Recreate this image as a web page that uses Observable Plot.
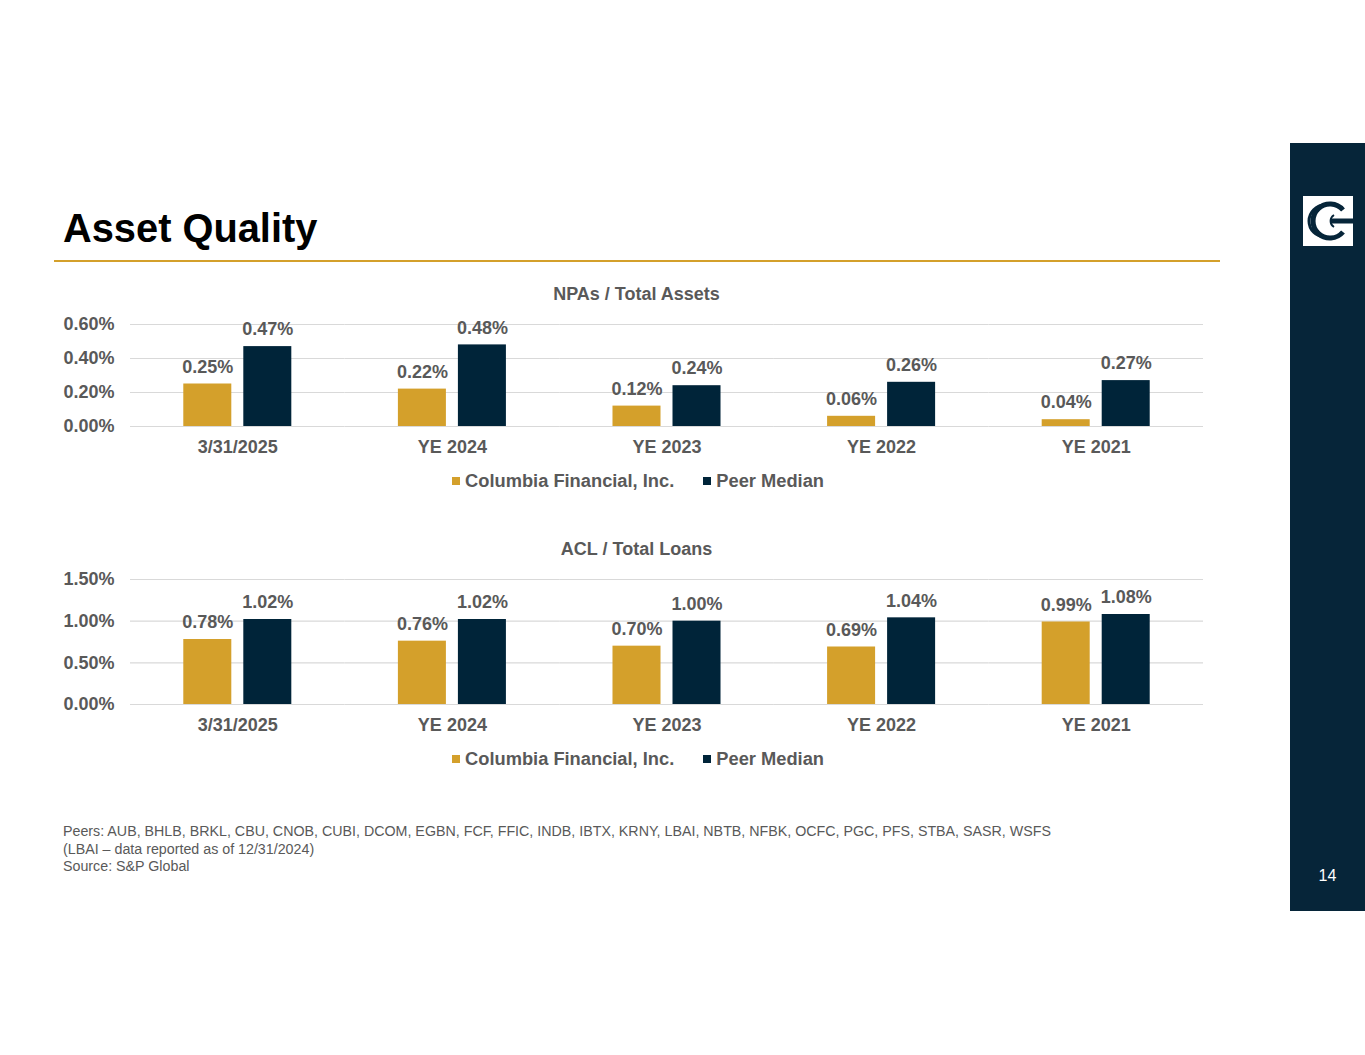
<!DOCTYPE html>
<html>
<head>
<meta charset="utf-8">
<script src="https://cdn.jsdelivr.net/npm/d3@7"></script>
<script src="https://cdn.jsdelivr.net/npm/@observablehq/plot@0.6"></script>
<style>
  html, body { margin: 0; padding: 0; background: #fff; }
  body { width: 1365px; height: 1055px; position: relative; overflow: hidden;
         font-family: "Liberation Sans", Arial, Helvetica, sans-serif; }
  .abs { position: absolute; }
  #title { left: 63px; top: 207px; font-size: 39.8px; font-weight: bold; color: #000; line-height: 42px; }
  #rule { left: 54px; top: 260px; width: 1166px; height: 1.5px; background: #d4a02b; }
  .ctitle { left: 55px; width: 1163px; text-align: center; font-size: 18px; font-weight: bold; color: #595959; line-height: 20px; }
  .legend { left: 0; width: 1276px; display: flex; justify-content: center; align-items: center;
            font-size: 18.3px; font-weight: bold; color: #595959; line-height: 20px; }
  .legend .item { display: flex; align-items: center; }
  .legend .sw { width: 8px; height: 8px; margin-right: 5px; }
  .legend .item + .item { margin-left: 29px; }
  #notes { left: 63px; top: 823px; font-size: 14.25px; color: #595959; line-height: 17.5px; }
  #sidebar { left: 1290px; top: 143px; width: 75px; height: 768px; background: #062539; }
  #pagenum { left: 1290px; width: 75px; top: 866px; text-align: center; color: #fff; font-size: 16px; line-height: 20px; }
  #logo { left: 1303px; top: 196px; }
</style>
</head>
<body>
<div id="title" class="abs">Asset Quality</div>
<div id="rule" class="abs"></div>

<div id="t1" class="abs ctitle" style="top:284px"></div>
<div id="chart1" class="abs" style="left:0; top:310px"></div>
<div id="legend1" class="abs legend" style="top:471px"></div>

<div id="t2" class="abs ctitle" style="top:539px"></div>
<div id="chart2" class="abs" style="left:0; top:565px"></div>
<div id="legend2" class="abs legend" style="top:749px"></div>

<div id="notes" class="abs"></div>

<div id="sidebar" class="abs"></div>
<svg id="logo" class="abs" width="50" height="50" viewBox="0 0 50 50">
  <rect x="0" y="0" width="50" height="50" fill="#ffffff"/>
  <path d="M 40 14 A 17 17 0 1 0 40 36" fill="none" stroke="#062539" stroke-width="5"/>
  <path d="M 22 9 A 16 16 0 0 0 22 41" fill="none" stroke="#062539" stroke-width="3"/>
  <path d="M 31 19 A 7 7 0 0 0 31 31" fill="none" stroke="#062539" stroke-width="2"/>
  <rect x="27" y="22.5" width="23" height="5" fill="#062539"/>
</svg>
<div id="pagenum" class="abs">14</div>

<script>
// ---- data ----
const categories = ["3/31/2025", "YE 2024", "YE 2023", "YE 2022", "YE 2021"];
const seriesNames = ["Columbia Financial, Inc.", "Peer Median"];
const npaColumbia = [0.25, 0.22, 0.12, 0.06, 0.04];
const npaPeer = [0.47, 0.48, 0.24, 0.26, 0.27];
const aclColumbia = [0.78, 0.76, 0.70, 0.69, 0.99];
const aclPeer = [1.02, 1.02, 1.00, 1.04, 1.08];
const npaTicks = [0, 0.2, 0.4, 0.6];
const aclTicks = [0, 0.5, 1.0, 1.5];
const chartTitles = ["NPAs / Total Assets", "ACL / Total Loans"];
const notes = [
  "Peers: AUB, BHLB, BRKL, CBU, CNOB, CUBI, DCOM, EGBN, FCF, FFIC, INDB, IBTX, KRNY, LBAI, NBTB, NFBK, OCFC, PGC, PFS, STBA, SASR, WSFS",
  "(LBAI \u2013 data reported as of 12/31/2024)",
  "Source: S&P Global"
];
const colors = ["#d4a02b", "#002439"];

function makeTable(a, b) {
  const rows = [];
  categories.forEach((c, i) => {
    rows.push({category: c, series: seriesNames[0], value: a[i]});
    rows.push({category: c, series: seriesNames[1], value: b[i]});
  });
  return rows;
}

function makeChart(table, ticks, plotHeight) {
  const fmt = d => d.toFixed(2) + "%";
  return Plot.plot({
    width: 1220,
    height: 14 + plotHeight + 36,
    marginLeft: 130,
    marginRight: 17,
    marginTop: 14,
    marginBottom: 36,
    style: {background: "transparent", fontFamily: "'Liberation Sans', Arial, sans-serif",
            fontSize: "18px", fontWeight: "bold", color: "#595959", overflow: "visible"},
    fx: {domain: categories, padding: 0, round: false, label: null, axis: "bottom", tickSize: 0, tickPadding: 14},
    x: {domain: seriesNames, paddingInner: 0.2, paddingOuter: 0.888, round: false, axis: null},
    y: {domain: [ticks[0], ticks[ticks.length - 1]], axis: null},
    color: {domain: seriesNames, range: colors},
    marks: [
      Plot.ruleY(ticks, {stroke: "#d9d9d9", strokeWidth: 1.2}),
      Plot.axisY(ticks, {tickSize: 0, tickPadding: 16, tickFormat: fmt, label: null,
                         fontSize: 18, fontWeight: "bold", fill: "#595959"}),
      Plot.barY(table, {fx: "category", x: "series", y: "value", fill: "series"}),
      Plot.text(table, {fx: "category", x: "series", y: "value", text: d => fmt(d.value),
                        dy: -17, lineAnchor: "middle", fill: "#595959", fontSize: 18, fontWeight: "bold"})
    ]
  });
}

function makeLegend(el) {
  seriesNames.forEach((s, i) => {
    const item = document.createElement("div");
    item.className = "item";
    const sw = document.createElement("div");
    sw.className = "sw";
    sw.style.background = colors[i];
    const t = document.createElement("span");
    t.textContent = s;
    item.appendChild(sw);
    item.appendChild(t);
    el.appendChild(item);
  });
}

document.getElementById("t1").textContent = chartTitles[0];
document.getElementById("t2").textContent = chartTitles[1];
document.getElementById("chart1").appendChild(makeChart(makeTable(npaColumbia, npaPeer), npaTicks, 102));
document.getElementById("chart2").appendChild(makeChart(makeTable(aclColumbia, aclPeer), aclTicks, 125));
makeLegend(document.getElementById("legend1"));
makeLegend(document.getElementById("legend2"));
document.getElementById("notes").innerHTML = notes.map(n => "<div>" + n.replace(/&/g, "&amp;") + "</div>").join("");
</script>
</body>
</html>
